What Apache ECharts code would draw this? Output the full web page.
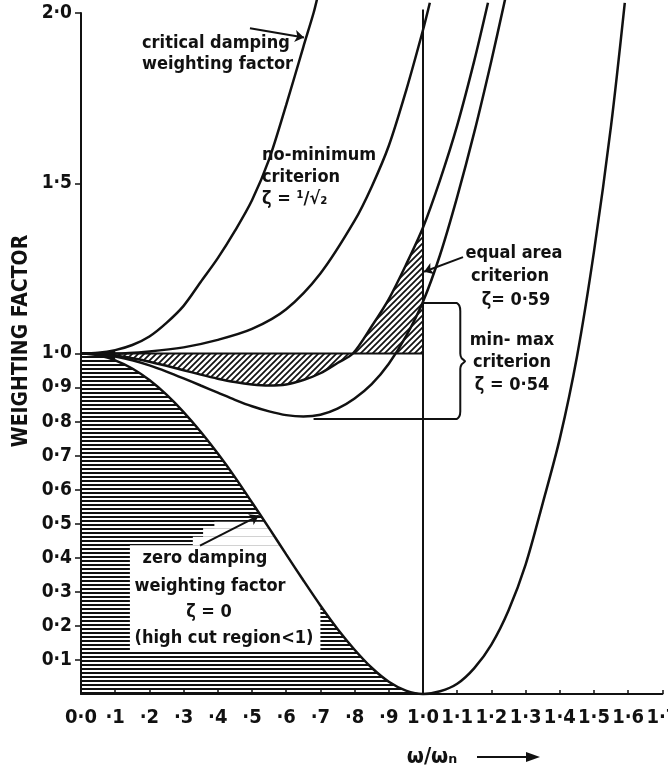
<!DOCTYPE html>
<html><head><meta charset="utf-8">
<script src="https://cdn.jsdelivr.net/npm/echarts@6/dist/echarts.min.js"></script>
<style>html,body{margin:0;padding:0;background:#fff}#c{width:668px;height:773px}</style>
</head><body><div id="c"></div>
<script>
// ---- axis ticks ----
const xTickLabels = ['0·0','·1','·2','·3','·4','·5','·6','·7','·8','·9','1·0','1·1','1·2','1·3','1·4','1·5','1·6','1·7'];
const yTickValues = [0.1,0.2,0.3,0.4,0.5,0.6,0.7,0.8,0.9,1.0,1.5,2.0];
const yTickLabels = ['0·1','0·2','0·3','0·4','0·5','0·6','0·7','0·8','0·9','1·0','1·5','2·0'];

// ---- curves (ω/ωn , weighting factor) ----
const critU = [0,0.05,0.1,0.15,0.2,0.25,0.3,0.35,0.4,0.45,0.5,0.55,0.6,0.65,0.68,0.69];
const critW = [1.0,1.002,1.01,1.025,1.05,1.09,1.14,1.21,1.28,1.36,1.45,1.57,1.73,1.90,2.0,2.04];

const noMinU = [0,0.1,0.2,0.3,0.4,0.5,0.6,0.7,0.8,0.85,0.9,0.95,1.0,1.02];
const noMinW = [1.0,1.0,1.006,1.018,1.04,1.072,1.13,1.235,1.39,1.49,1.61,1.77,1.95,2.03];

const eqU = [0,0.05,0.1,0.15,0.2,0.25,0.3,0.35,0.4,0.45,0.5,0.55,0.6,0.65,0.7,0.75,0.795,0.85,0.9,0.95,1.0,1.05,1.1,1.15,1.19];
const eqW = [1.0,0.999,0.994,0.986,0.976,0.964,0.951,0.938,0.926,0.916,0.909,0.906,0.909,0.922,0.942,0.972,1.0,1.08,1.16,1.26,1.37,1.51,1.67,1.86,2.03];

const mmU = [0,0.05,0.1,0.15,0.2,0.25,0.3,0.35,0.4,0.45,0.5,0.55,0.6,0.65,0.7,0.75,0.8,0.85,0.9,0.95,1.0,1.05,1.1,1.15,1.2,1.24];
const mmW = [1.0,0.998,0.991,0.98,0.965,0.947,0.927,0.906,0.885,0.864,0.845,0.83,0.819,0.815,0.82,0.838,0.868,0.91,0.97,1.05,1.152,1.29,1.46,1.65,1.86,2.04];

const zeroU = [0,0.05,0.1,0.15,0.2,0.25,0.3,0.35,0.4,0.45,0.5,0.55,0.6,0.65,0.7,0.75,0.8,0.85,0.9,0.95,1.0,1.05,1.1,1.15,1.2,1.25,1.3,1.35,1.4,1.45,1.5,1.55,1.59];
const zeroW = [1.0,0.995,0.98,0.956,0.922,0.879,0.828,0.77,0.706,0.637,0.5625,0.487,0.41,0.334,0.26,0.191,0.13,0.077,0.036,0.01,0.0,0.008,0.03,0.076,0.145,0.245,0.38,0.56,0.75,0.99,1.3,1.67,2.03];

// ---- reference lines / bracket (data units) ----
const resonanceLine = [[1.0,0],[1.0,2.01]];
const unityLine = [[0,1.0],[1.0,1.0]];
const bracketPts = [[1.0,1.148],[1.098,1.148],[1.106,1.141],[1.109,1.125],[1.109,1.0],[1.113,0.986],[1.123,0.977],[1.113,0.968],[1.109,0.955],[1.109,0.83],[1.106,0.815],[1.098,0.808],[0.68,0.808]];
// unhatched label areas inside the zero-damping region [u0, v0, u1, v1]
const labelBoxes = [[0.143,0.123,0.70,0.437],[0.327,0.437,0.62,0.462],[0.357,0.462,0.62,0.487],[0.39,0.487,0.62,0.506]];
// arrows [from, to, curveness]
const arrows = [
  [[0.494,1.955],[0.652,1.928],-0.3],
  [[1.117,1.283],[1.003,1.24],0.25],
  [[0.348,0.436],[0.52,0.524],-0.25]
];

const INK = '#111';
const FONT = '"DejaVu Sans Condensed","Liberation Sans Narrow","DejaVu Sans",sans-serif';

function hPattern(){const c=document.createElement('canvas');c.width=8;c.height=4;const g=c.getContext('2d');g.fillStyle=INK;g.fillRect(0,0,8,2);return c;}
function dPattern(){const s=6;const c=document.createElement('canvas');c.width=s;c.height=s;const g=c.getContext('2d');g.strokeStyle=INK;g.lineWidth=1.7;g.beginPath();g.moveTo(-1,s+1);g.lineTo(s+1,-1);g.moveTo(-2,2);g.lineTo(2,-2);g.moveTo(s-2,s+2);g.lineTo(s+2,s-2);g.stroke();return c;}

const zip = (u,w)=>u.map((x,i)=>[x,w[i]]);
const zeroLeft = zeroU.map((u,i)=>[u,zeroW[i]]).filter(p=>p[0]<=1.0001);
// equal-area hatched region: between ζ=0.59 curve and the unity line, up to ω/ωn = 1
const eqIdx = eqU.map((u,i)=>i).filter(i=>eqU[i]<=1.0001);
const eqRegion = eqIdx.map(i=>[eqU[i],Math.max(eqW[i],1)]).concat(eqIdx.slice().reverse().map(i=>[eqU[i],Math.min(eqW[i],1)]));
// dark wedge where the curves leave the common point
const wedge = zip(critU,critW).filter(p=>p[0]<=0.1001).concat(zip(zeroU,zeroW).filter(p=>p[0]<=0.1001).reverse());

function curve(data){return {type:'line',data,symbol:'none',smooth:0.3,clip:false,z:4,lineStyle:{color:INK,width:2.5},silent:true};}
function plain(data,w,smooth){return {type:'line',data,symbol:'none',smooth:smooth||false,clip:false,z:4,lineStyle:{color:INK,width:w},silent:true};}
function region(pts,fill,z){return {type:'custom',data:[[0.5,1.0]],z,silent:true,clip:false,
  renderItem:(p,api)=>({type:'polygon',shape:{points:pts.map(q=>api.coord(q))},style:{fill}})};}

const chart = echarts.init(document.getElementById('c'),null,{renderer:'canvas'});
const txt = (t,x,y,align,size)=>({type:'text',x,y,z:10,style:{text:t,font:`bold ${size||18}px ${FONT}`,fill:INK,align:align||'left',verticalAlign:'middle'}});

chart.setOption({
  animation:false,
  backgroundColor:'#fff',
  grid:{left:81,right:5.6,top:13,bottom:79,outerBoundsMode:'none',containLabel:false},
  xAxis:{type:'value',min:0,max:1.7,interval:0.1,
    axisLine:{lineStyle:{color:INK,width:2}},
    axisTick:{inside:true,length:4,lineStyle:{color:INK,width:1.5}},
    axisLabel:{margin:14,color:INK,fontFamily:FONT,fontSize:20,fontWeight:'bold',formatter:v=>xTickLabels[Math.round(v*10)]||''},
    splitLine:{show:false}},
  yAxis:{type:'value',min:0,max:2.0,interval:0.1,
    axisLine:{show:true,lineStyle:{color:INK,width:2}},
    axisTick:{show:true,length:6,customValues:yTickValues,lineStyle:{color:INK,width:1.5}},
    axisLabel:{margin:9,color:INK,fontFamily:FONT,fontSize:19,fontWeight:'bold',customValues:yTickValues,
      formatter:v=>{const i=yTickValues.findIndex(t=>Math.abs(t-v)<1e-6);return i<0?'':yTickLabels[i];}},
    splitLine:{show:false}},
  series:[
    {type:'line',data:zeroLeft,symbol:'none',z:1,lineStyle:{width:0},areaStyle:{color:{image:hPattern(),repeat:'repeat'},opacity:1,origin:'start'},silent:true},
    region(eqRegion,{image:dPattern(),repeat:'repeat'},1),
    {type:'custom',data:labelBoxes,z:2,silent:true,encode:{x:[0,2],y:[1,3]},
      renderItem:(p,api)=>{const a=api.coord([api.value(0),api.value(3)]);const b=api.coord([api.value(2),api.value(1)]);
        return {type:'rect',shape:{x:a[0],y:a[1],width:b[0]-a[0],height:b[1]-a[1]},style:{fill:'#fff'}};}},
    region(wedge,INK,3),
    curve(zip(critU,critW)),
    curve(zip(noMinU,noMinW)),
    curve(zip(eqU,eqW)),
    curve(zip(mmU,mmW)),
    curve(zip(zeroU,zeroW)),
    plain(resonanceLine,2),
    plain(unityLine,2),
    plain(bracketPts,2,0.2),
    {type:'line',data:[],symbol:'none',silent:true,
      markLine:{silent:true,symbol:['none','arrow'],symbolSize:9,label:{show:false},
        data:arrows.map(a=>[{coord:a[0],lineStyle:{curveness:a[2]}},{coord:a[1]}]),
        lineStyle:{color:INK,width:2,type:'solid'}}}
  ],
  graphic:[
    txt('critical damping',142,43),
    txt('weighting factor',142,64),
    txt('no-minimum',262,155),
    txt('criterion',262,177),
    txt('ζ = ¹/√₂',262,199),
    txt('equal area',514,253,'center'),
    txt('criterion',510,276,'center'),
    txt('ζ= 0·59',516,300,'center'),
    txt('min- max',512,340,'center'),
    txt('criterion',512,362,'center'),
    txt('ζ = 0·54',512,385,'center'),
    txt('zero damping',205,558,'center'),
    txt('weighting factor',210,586,'center'),
    txt('ζ = 0',209,612,'center'),
    txt('(high cut region<1)',224,638,'center'),
    {type:'text',x:22,y:341,rotation:Math.PI/2,z:10,style:{text:'WEIGHTING FACTOR',font:`bold 21px ${FONT}`,fill:INK,align:'center',verticalAlign:'middle'}},
    {type:'text',x:432,y:757,z:10,style:{text:'ω/ωₙ',font:`bold 22px ${FONT}`,fill:INK,align:'center',verticalAlign:'middle'}},
    {type:'line',z:10,shape:{x1:477,y1:757,x2:530,y2:757},style:{stroke:INK,lineWidth:2}},
    {type:'polygon',z:10,shape:{points:[[526,752],[540,757],[526,762]]},style:{fill:INK}}
  ]
});
</script></body></html>
